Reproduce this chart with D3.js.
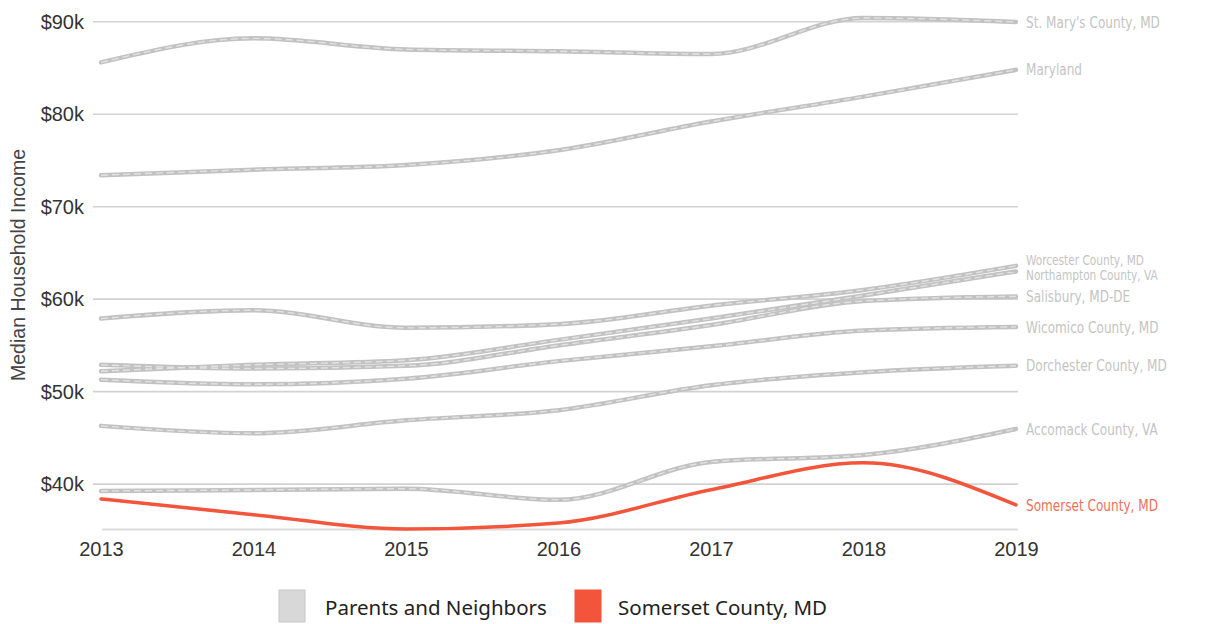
<!DOCTYPE html>
<html>
<head>
<meta charset="utf-8">
<script src="https://cdn.jsdelivr.net/npm/d3@7"></script>
<style>
  body { margin: 0; background: #fff; }
  .tick text { font-family: "Liberation Sans", Arial, sans-serif; }
</style>
</head>
<body>
<div id="chart"></div>
<script>
var years = [2013, 2014, 2015, 2016, 2017, 2018, 2019];
var yTicks = [40000, 50000, 60000, 70000, 80000, 90000];

var stMarys    = [85600, 88200, 87000, 86800, 86500, 90400, 89970];
var maryland   = [73400, 74000, 74500, 76100, 79200, 81900, 84800];
var worcester  = [57900, 58800, 56900, 57300, 59300, 61000, 63600];
var northampton = [52200, 52900, 53400, 55600, 57900, 60400, 63000];
var salisbury  = [52900, 52500, 52800, 55000, 57200, 59800, 60300];
var wicomico   = [51300, 50800, 51400, 53300, 54900, 56600, 57000];
var dorchester = [46300, 45500, 46900, 48000, 50700, 52100, 52800];
var accomack   = [39260, 39370, 39500, 38300, 42400, 43150, 45960];
var somerset   = [38400, 36700, 35150, 35800, 39400, 42300, 37750];

var seriesNames = ["St. Mary's County, MD", "Maryland", "Worcester County, MD", "Northampton County, VA",
  "Salisbury, MD-DE", "Wicomico County, MD", "Dorchester County, MD", "Accomack County, VA", "Somerset County, MD"];
var legendLabels = ["Parents and Neighbors", "Somerset County, MD"];

var series = [stMarys, maryland, worcester, northampton, salisbury, wicomico, dorchester, accomack, somerset]
  .map(function(vals, i) {
    return { name: seriesNames[i], values: vals, main: i === 8 };
  });

var svgWidth = 1209;
var svgHeight = 624;
var red = "#f2553b";

var svg = d3.select("#chart")
  .append("svg")
  .attr("width", svgWidth)
  .attr("height", svgHeight);

var allVals = [].concat.apply([], series.map(d => d.values));

var x = d3.scaleLinear()
  .domain(d3.extent(years))
  .range([101, 1016]);

var y = d3.scaleLinear()
  .domain(d3.extent(allVals))
  .range([529, 18]);

// gridlines
svg.append("g")
  .selectAll("line")
  .data(yTicks)
  .enter()
  .append("line")
  .attr("x1", 93)
  .attr("x2", 1018)
  .attr("y1", d => y(d))
  .attr("y2", d => y(d))
  .attr("stroke", "#d2d2d2")
  .attr("stroke-width", 1.6);

// baseline
svg.append("line")
  .attr("x1", 102).attr("x2", 1018)
  .attr("y1", y.range()[0] + 0.5).attr("y2", y.range()[0] + 0.5)
  .attr("stroke", "#dcdcdc")
  .attr("stroke-width", 2);

var leftAxis = d3.axisLeft(y)
  .tickValues(yTicks)
  .tickSize(0)
  .tickPadding(9)
  .tickFormat(d => "$" + (d / 1000) + "k");

svg.append("g")
  .attr("transform", "translate(93,0)")
  .call(leftAxis)
  .call(g => g.select(".domain").remove())
  .selectAll("text")
  .attr("font-size", "20px")
  .attr("fill", "#333");

var bottomAxis = d3.axisBottom(x)
  .tickValues(years)
  .tickSize(0)
  .tickPadding(12)
  .tickFormat(d3.format("d"));

svg.append("g")
  .attr("transform", "translate(0,530)")
  .call(bottomAxis)
  .call(g => g.select(".domain").remove())
  .selectAll("text")
  .attr("font-size", "20px")
  .attr("fill", "#333");

svg.append("text")
  .attr("transform", "rotate(-90)")
  .attr("x", -265)
  .attr("y", 25)
  .attr("text-anchor", "middle")
  .attr("font-family", "Liberation Sans, Arial, sans-serif")
  .attr("font-size", "19.5px")
  .attr("fill", "#444")
  .text("Median Household Income");

var line = d3.line()
  .x((d, i) => x(years[i]))
  .y(d => y(d))
  .curve(d3.curveMonotoneX);

var greys = series.filter(d => !d.main);
var main = series.filter(d => d.main);

var gLines = svg.append("g");

gLines.selectAll(".grey-base")
  .data(greys)
  .enter()
  .append("path")
  .attr("d", d => line(d.values))
  .attr("fill", "none")
  .attr("stroke", "#c2c2c2")
  .attr("stroke-width", 4.5)
  .attr("stroke-linecap", "round");

gLines.selectAll(".grey-tex")
  .data(greys)
  .enter()
  .append("path")
  .attr("d", d => line(d.values))
  .attr("fill", "none")
  .attr("stroke", "#e2e2e2")
  .attr("stroke-width", 1.4)
  .attr("stroke-dasharray", "7,4");

gLines.selectAll(".main")
  .data(main)
  .enter()
  .append("path")
  .attr("d", d => line(d.values))
  .attr("fill", "none")
  .attr("stroke", red)
  .attr("stroke-width", 3.5)
  .attr("stroke-linecap", "round");

// end labels (narrowed to look condensed); nudge the two crowded ones apart a little
var nudge = { "Worcester County, MD": -6, "Northampton County, VA": 4 };

svg.append("g")
  .selectAll("text")
  .data(series)
  .enter()
  .append("text")
  .attr("transform", d => "translate(1026," + (y(d.values[d.values.length - 1]) + (nudge[d.name] || 0)) + ") scale(0.84,1)")
  .attr("dy", "0.35em")
  .attr("font-family", "Liberation Sans Narrow, DejaVu Sans Condensed, sans-serif")
  .attr("font-size", d => nudge[d.name] ? "14px" : "16px")
  .attr("fill", d => d.main ? "#f0705a" : "#c4c4c4")
  .text(d => d.name);

// legend
var legend = svg.append("g");
var legendX = [279, 575];
var legendText = [325, 618];

legend.selectAll("rect")
  .data(legendLabels)
  .enter()
  .append("rect")
  .attr("x", (d, i) => legendX[i])
  .attr("y", 590)
  .attr("width", 26)
  .attr("height", 32)
  .attr("fill", (d, i) => i === 0 ? "#d8d8d8" : red)
  .attr("stroke", (d, i) => i === 0 ? "#c8c8c8" : red);

legend.selectAll("text")
  .data(legendLabels)
  .enter()
  .append("text")
  .attr("x", (d, i) => legendText[i])
  .attr("y", 615)
  .attr("font-family", "Noto Sans, sans-serif")
  .attr("font-size", "20.5px")
  .attr("fill", "#222")
  .text(d => d);
</script>
</body>
</html>
